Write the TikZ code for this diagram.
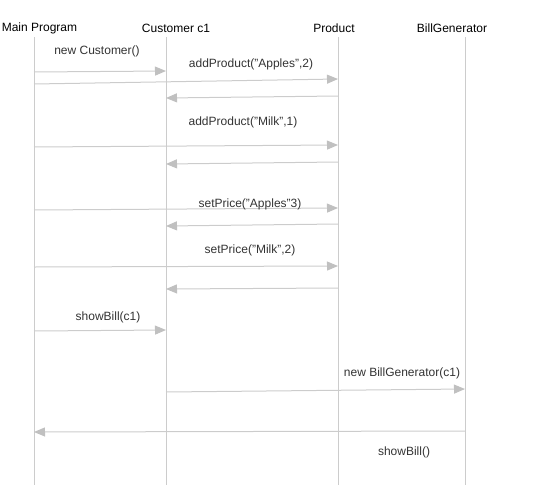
\documentclass[tikz,border=0pt]{standalone}
\usepackage{fontspec}
\setmainfont{Liberation Sans}
\usepackage{xcolor}
\usetikzlibrary{arrows.meta}
\definecolor{linegray}{RGB}{204,204,204}
\definecolor{tipgray}{RGB}{192,192,192}
\definecolor{textgray}{RGB}{51,51,51}

\tikzset{
  head/.style={inner sep=0pt,text=black,yshift=-1.5pt},
  lbl/.style={inner sep=0pt,text=textgray,yshift=-1.5pt},
  life/.style={draw=linegray,line width=1pt},
  msg/.style={draw=linegray,line width=1pt,-{Triangle[length=11pt,width=9pt,color=tipgray]}}
}

\begin{document}
\begin{tikzpicture}[x=1pt,y=-1pt,font=\fontsize{12}{14}\selectfont]
    \useasboundingbox (0,0) rectangle (551,485);
    % lifeline heads
    \node[head] (mp) at (39.5,27) {Main Program};
    \node[head] (cu) at (176,27) {Customer c1};
    \node[head] (pr) at (334,27) {Product};
    \node[head] (bg) at (452,27) {BillGenerator};
    % lifelines
    \coordinate (mptop) at (34,37);   \coordinate (mpbot) at (34,485);
    \coordinate (cutop) at (166,37);  \coordinate (cubot) at (166,485);
    \coordinate (prtop) at (338,37);  \coordinate (prbot) at (338,485);
    \coordinate (bgtop) at (465,37);  \coordinate (bgbot) at (465,485);
    \draw[life] (mptop) -- (mpbot);
    \draw[life] (cutop) -- (cubot);
    \draw[life] (prtop) -- (prbot);
    \draw[life] (bgtop) -- (bgbot);
    % message ends
    \coordinate (a1) at (34,72);   \coordinate (b1) at (166,71);
    \coordinate (a2) at (34,84);   \coordinate (b2) at (338,79);
    \coordinate (a3) at (338,96);  \coordinate (b3) at (166,98);
    \coordinate (a4) at (34,147);  \coordinate (b4) at (338,145);
    \coordinate (a5) at (338,162); \coordinate (b5) at (166,164);
    \coordinate (a6) at (34,210);  \coordinate (b6) at (338,208);
    \coordinate (a7) at (338,224); \coordinate (b7) at (166,226);
    \coordinate (a8) at (34,267);  \coordinate (b8) at (338,266);
    \coordinate (a9) at (338,288); \coordinate (b9) at (166,289);
    \coordinate (a10) at (34,331); \coordinate (b10) at (166,330);
    \coordinate (a11) at (166,392); \coordinate (b11) at (465,389);
    \coordinate (a12) at (465,431); \coordinate (b12) at (34,432);
    % messages
    \foreach \i in {1,...,12}
    \draw[msg] (a\i) -- (b\i);
    % labels
    \node[lbl] (newcu) at (97,50) {new Customer()};
    \node[lbl] (addap) at (251,63) {addProduct("Apples",2)};
    \node[lbl] (addmi) at (243,121) {addProduct("Milk",1)};
    \node[lbl] (setap) at (250,203) {setPrice("Apples"3)};
    \node[lbl] (setmi) at (250,249) {setPrice("Milk",2)};
    \node[lbl] (showc) at (108,316) {showBill(c1)};
    \node[lbl] (newbg) at (402,372) {new BillGenerator(c1)};
    \node[lbl] (showb) at (404,451) {showBill()};
\end{tikzpicture}
\end{document}
